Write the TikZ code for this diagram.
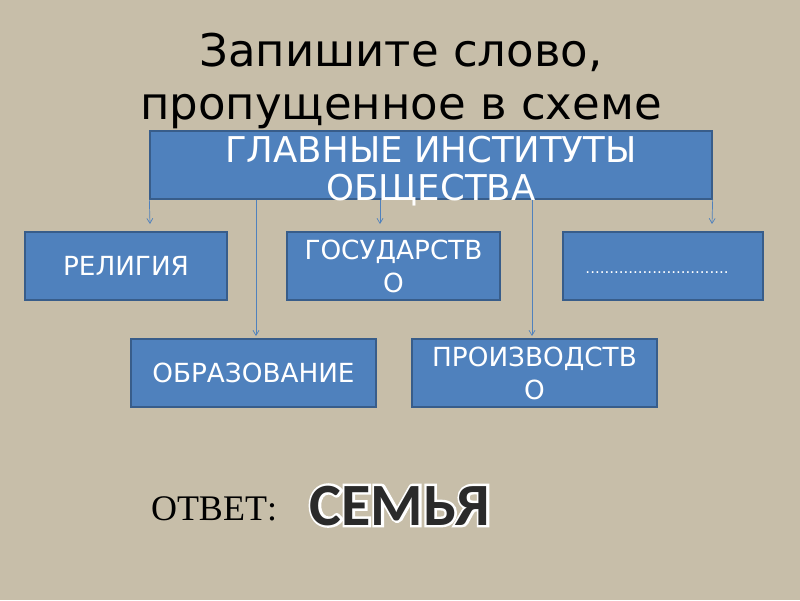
\documentclass[tikz,border=0pt]{standalone}
\usepackage{fontspec}
\setmainfont{DejaVu Sans}
\setsansfont{DejaVu Sans}
\newfontfamily\serifru{Liberation Serif}
\newfontfamily\answerfont{Carlito}
\newfontfamily\halofont{Carlito}[BoldFeatures={FakeBold=8}]
\usetikzlibrary{arrows.meta}
\definecolor{bgc}{RGB}{199,190,169}
\definecolor{boxfill}{RGB}{79,129,189}
\definecolor{boxline}{RGB}{56,93,138}
\definecolor{linkc}{RGB}{79,129,189}
\definecolor{wordc}{RGB}{42,42,42}
\tikzset{
  box/.style={draw=boxline, line width=1.3pt, fill=boxfill, minimum height=68pt, inner sep=0pt, text=white, align=center, font=\fontsize{26.3}{33}\selectfont},
  boxlabel/.style={text=white, align=center, inner sep=0pt, font=\fontsize{35.5}{38}\selectfont},
  link/.style={draw=linkc, line width=0.7pt, -{Straight Barb[length=5pt,width=6pt,line width=0.7pt]}},
}
\begin{document}
\begin{tikzpicture}[x=1pt,y=-1pt]
\fill[bgc] (0,0) rectangle (800,600);
\useasboundingbox (0,0) rectangle (800,600);
% title
\node[align=center, inner sep=0pt, font=\fontsize{45}{53}\selectfont] (title) at (401,81) {Запишите слово,\\пропущенное в схеме};
% top box
\node[box, minimum width=562pt] (top) at (431,165) {};
\node[boxlabel] (toplabel) at (431,171) {ГЛАВНЫЕ ИНСТИТУТЫ\\ОБЩЕСТВА};
% row 1
\node[box, minimum width=202pt] (rel) at (126,266) {РЕЛИГИЯ};
\node[box, minimum width=213pt] (gos) at (393.5,266) {ГОСУДАРСТВ\\О};
\node[box, minimum width=200pt] (dots) at (663,266) {};
\node[inner sep=0pt, text=white, font=\fontsize{15}{15}\selectfont] (dotslabel) at (657,273) {..............................};
% row 2
\node[box, minimum width=245pt] (obr) at (253.5,373) {ОБРАЗОВАНИЕ};
\node[box, minimum width=245pt] (pro) at (534.5,373) {ПРОИЗВОДСТВ\\О};
% connector ends
\coordinate (e1) at (150,224);
\coordinate (e2) at (380,224);
\coordinate (e3) at (712,224);
\coordinate (e4) at (256,336);
\coordinate (e5) at (532,336);
\draw[link] (top.south west) -- (e1);
\draw[link] (top.south -| e2) -- (e2);
\draw[link] (top.south east) -- (e3);
\draw[link] (top.south -| e4) -- (e4);
\draw[link] (top.south -| e5) -- (e5);
% answer
\node[anchor=base, inner sep=0pt, font=\serifru\fontsize{36}{36}\selectfont] (otv) at (214,520) {ОТВЕТ:};
\node[anchor=base, inner sep=0pt, font=\fontsize{60}{60}\selectfont] (ans) at (400,525)
  {\makebox[0pt][l]{\halofont\bfseries\textcolor{white}{СЕМЬЯ}}\answerfont\bfseries\textcolor{wordc}{СЕМЬЯ}};
\end{tikzpicture}
\end{document}
